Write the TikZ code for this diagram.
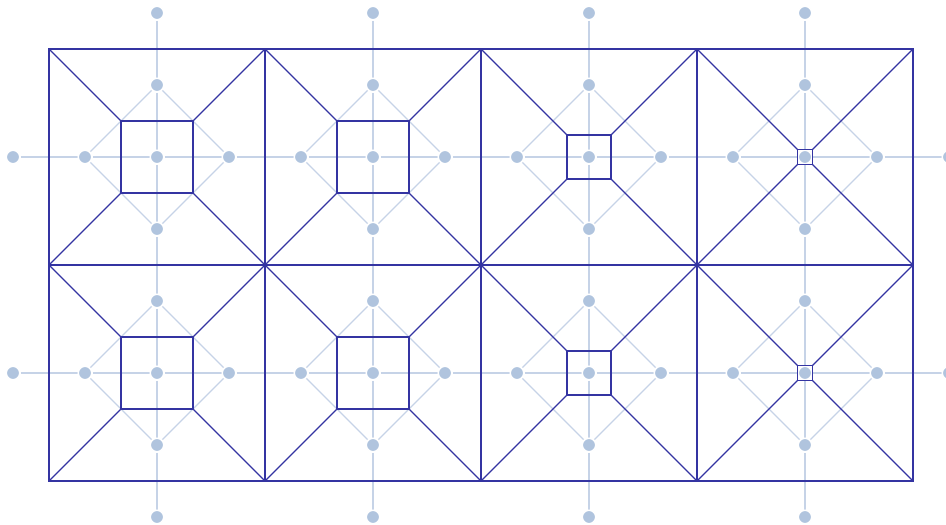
\documentclass[tikz,border=0pt]{standalone}
\usetikzlibrary{backgrounds}
\definecolor{gridInk}{HTML}{3434A2}
\definecolor{linkLine}{HTML}{C6D3E7}
\definecolor{dotFill}{HTML}{B0C4DE}
\tikzset{
  gridfig/.style={x=1pt, y=-1pt},
  dotnode/.style={
    circle, fill=dotFill, draw=white, line width=1.5pt,
    minimum size=13.5pt, inner sep=0pt,
  },
  link/.style={draw=linkLine, line width=1.3pt},
  frame/.style={draw=gridInk, line width=1.1pt},
  % inneres Quadrat je Zelle, Seitenlaenge als Argument
  coresq/.style={
    rectangle, draw=gridInk, line width=1.1pt,
    inner sep=0pt, outer sep=0pt, minimum size=#1,
  },
}

\begin{document}
\begin{tikzpicture}[gridfig]
  \useasboundingbox (0,0) rectangle (946,525);
  % Punkte auf den beiden Zeilen und den vier Spalten
  \foreach \i in {0,...,13}
    \foreach \j in {2,5}
      \node[dotnode] (d-\i-\j) at ({13+72*\i},{13+72*\j}) {};
  \foreach \i in {2,5,8,11}
    \foreach \j in {0,1,3,4,6,7}
      \node[dotnode] (d-\i-\j) at ({13+72*\i},{13+72*\j}) {};
  % helle Verbindungen hinter den Punkten
  \begin{scope}[on background layer]
    \foreach \j in {2,5}
      \foreach \i in {0,...,12} {
        \pgfmathtruncatemacro{\k}{\i+1}
        \draw[link] (d-\i-\j) -- (d-\k-\j);
      }
    \foreach \i in {2,5,8,11}
      \foreach \j in {0,...,6} {
        \pgfmathtruncatemacro{\k}{\j+1}
        \draw[link] (d-\i-\j) -- (d-\i-\k);
      }
    \foreach \i in {2,5,8,11}
      \foreach \j in {2,5} {
        \pgfmathtruncatemacro{\a}{\i-1}
        \pgfmathtruncatemacro{\b}{\i+1}
        \pgfmathtruncatemacro{\u}{\j-1}
        \pgfmathtruncatemacro{\v}{\j+1}
        \draw[link] (d-\a-\j) -- (d-\i-\u);
        \draw[link] (d-\i-\u) -- (d-\b-\j);
        \draw[link] (d-\b-\j) -- (d-\i-\v);
        \draw[link] (d-\i-\v) -- (d-\a-\j);
      }
  \end{scope}
  % Zellecken
  \foreach \m in {0,...,4}
    \foreach \n in {0,1,2}
      \coordinate (c-\m-\n) at ({49+216*\m},{49+216*\n});
  \draw[frame] (c-0-0) rectangle (c-4-2);
  \draw[frame] (c-0-1) -- (c-4-1);
  \foreach \m in {1,2,3}
    \draw[frame] (c-\m-0) -- (c-\m-2);
  % Quadrate und Diagonalen
  \foreach \m/\s in {0/72,1/72,2/44,3/15}
    \foreach \n in {0,1} {
      \pgfmathtruncatemacro{\mm}{\m+1}
      \pgfmathtruncatemacro{\nn}{\n+1}
      \node[coresq=\s pt] (sq-\m-\n) at ({157+216*\m},{157+216*\n}) {};
      \draw[frame] (c-\m-\n) -- (sq-\m-\n.north west);
      \draw[frame] (c-\mm-\n) -- (sq-\m-\n.north east);
      \draw[frame] (c-\m-\nn) -- (sq-\m-\n.south west);
      \draw[frame] (c-\mm-\nn) -- (sq-\m-\n.south east);
    }
\end{tikzpicture}
\end{document}
